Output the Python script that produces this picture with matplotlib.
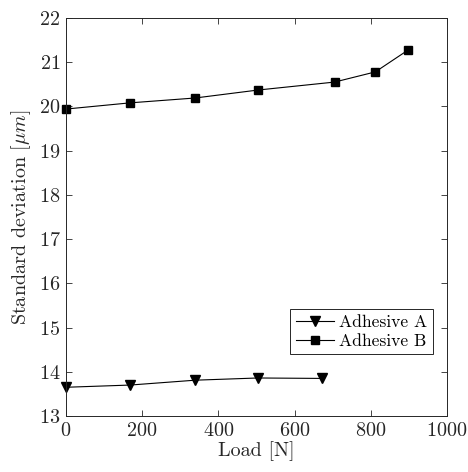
import matplotlib
matplotlib.use("Agg")
from matplotlib import pyplot as plt

# standard deviation of the bond line vs applied load
load_a = [0, 168, 339, 504, 673]
std_a = [13.65, 13.70, 13.81, 13.86, 13.85]

load_b = [0, 168, 339, 504, 705, 812, 899]
std_b = [19.94, 20.08, 20.19, 20.37, 20.55, 20.78, 21.28]

plt.rcParams['font.family'] = 'serif'
plt.rcParams['font.serif'] = ['cmr10']
plt.rcParams['mathtext.fontset'] = 'cm'
plt.rcParams['axes.formatter.use_mathtext'] = True
plt.rcParams['font.size'] = 14.5

fig = plt.figure(figsize=(4.68, 4.72), dpi=100)
ax = fig.add_axes([0.141, 0.1186, 0.814, 0.8434])

ax.plot(load_a, std_a, color='black', lw=0.8, marker='v', ms=7.5,
        label='Adhesive A', clip_on=False)
ax.plot(load_b, std_b, color='black', lw=0.8, marker='s', ms=6,
        label='Adhesive B', clip_on=False)

ax.set_xlim(0, 1000)
ax.set_ylim(13, 22)
ax.set_xticks(range(0, 1001, 200))
ax.set_yticks(range(13, 23))
ax.tick_params(direction='in', top=True, right=True, length=4, width=0.6,
               colors='#262626', labelcolor='#262626', pad=4)
for s in ax.spines.values():
    s.set_linewidth(0.7)
    s.set_color('#262626')

ax.set_xlabel('Load [N]', color='#262626', labelpad=1)
ax.set_ylabel(r'Standard deviation [$\mu m$]', color='#262626', labelpad=4)

leg = ax.legend(loc='lower right', bbox_to_anchor=(0.963, 0.156),
                borderaxespad=0, fancybox=False, edgecolor='#262626',
                framealpha=1, handlelength=2.2, handletextpad=0.3,
                borderpad=0.3, labelspacing=0.2, fontsize=12.6)
leg.get_frame().set_linewidth(0.7)

fig.savefig('out.png', dpi=100)
